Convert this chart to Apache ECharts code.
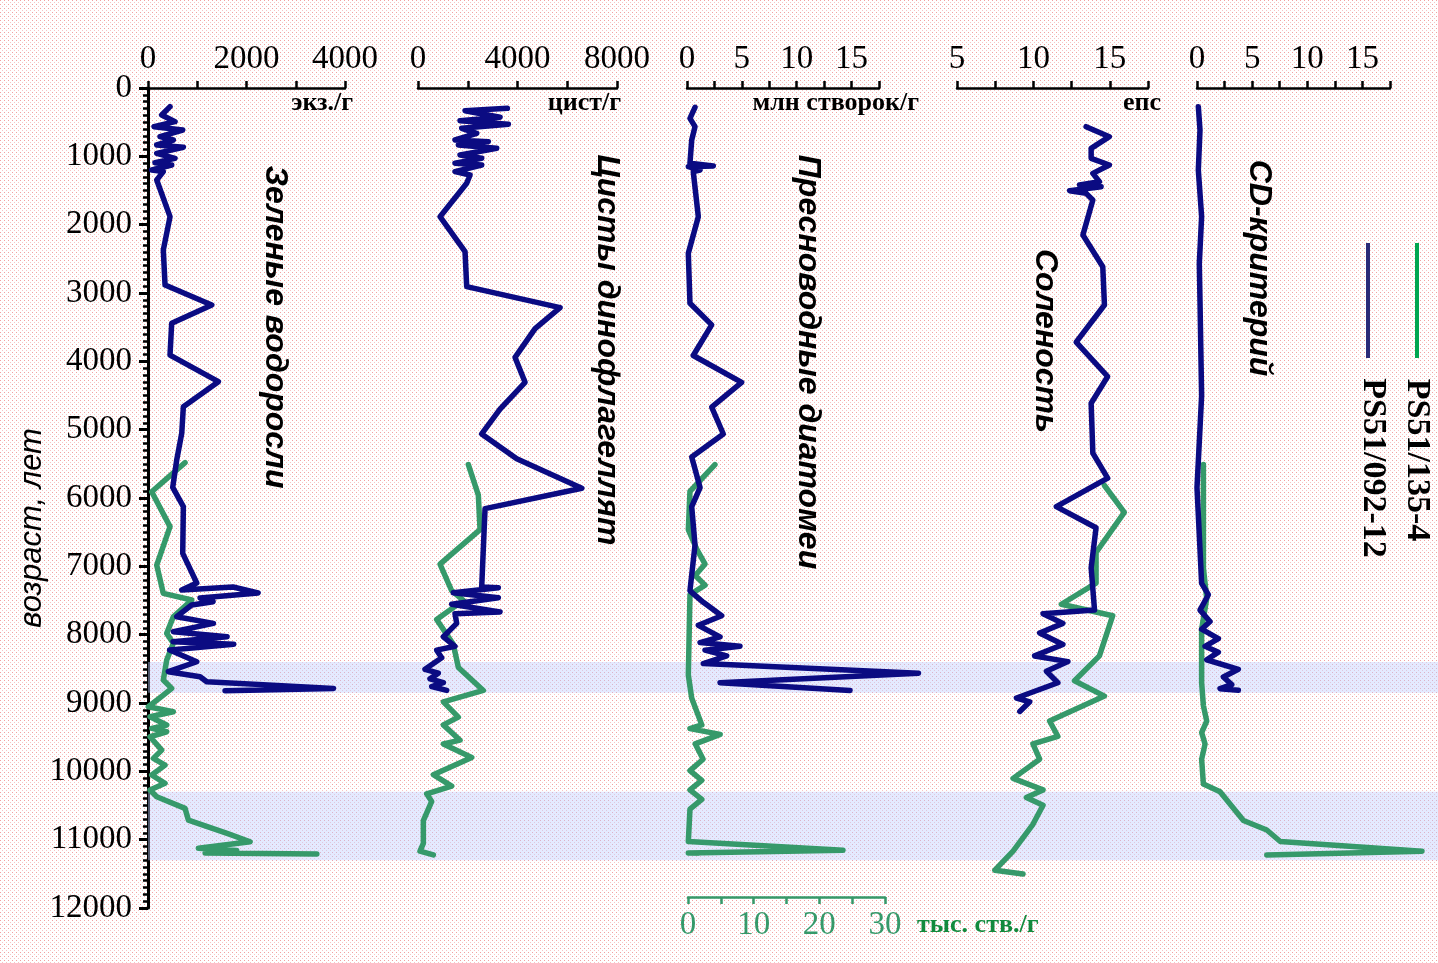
<!DOCTYPE html>
<html>
<head>
<meta charset="utf-8">
<script src="https://cdn.jsdelivr.net/npm/echarts@6/dist/echarts.min.js"></script>
<style>
html,body{margin:0;padding:0;}
body{width:1438px;height:963px;background-color:#fff;
background-image:url("data:image/svg+xml;utf8,<svg xmlns='http://www.w3.org/2000/svg' width='4' height='4'><rect x='0' y='0' width='1' height='1' fill='%23f2a0a0'/><rect x='2' y='2' width='1' height='1' fill='%23f7c4c4'/></svg>");
background-size:4px 4px;}
#chart{width:1438px;height:963px;}
</style>
</head>
<body>
<div id="chart"></div>
<script>
// ---- data: [value, age (years)] ----
const algae092 = [[447,273],[278,395],[549,493],[122,566],[705,615],[244,712],[514,761],[177,834],[718,868],[177,956],[549,1029],[142,1093],[481,1127],[75,1200],[311,1224],[177,1346],[447,1883],[311,2371],[346,2883],[1295,3176],[481,3444],[447,3908],[1429,4298],[718,4664],[685,5054],[583,5444],[502,5844],[718,6127],[705,6810],[990,7244],[685,7347],[1728,7303],[2236,7390],[1057,7464],[1321,7518],[886,7566],[583,7737],[1328,7835],[515,7957],[1606,8030],[508,8103],[1741,8142],[440,8225],[990,8396],[413,8542],[1057,8615],[1193,8689],[3767,8786],[1565,8820]];
const algae135 = [[752,5483],[75,5908],[447,6419],[177,6981],[311,7395],[888,7493],[514,7737],[380,7981],[514,8127],[380,8371],[311,8664],[481,8786],[311,8884],[7,9055],[514,9128],[41,9201],[380,9323],[75,9372],[380,9421],[41,9494],[278,9689],[109,9811],[346,9909],[75,10054],[346,10176],[41,10274],[177,10371],[752,10542],[820,10713],[1606,10908],[2073,11030],[1023,11127],[1800,11160],[1160,11195],[3428,11210]];
const cysts092 = [[3593,297],[1891,332],[3298,429],[1689,478],[3633,532],[1757,590],[2361,663],[1488,761],[2829,785],[1622,834],[3164,883],[1689,981],[2561,1029],[1488,1102],[2561,1127],[1488,1224],[2092,1273],[1958,1395],[885,1883],[1891,2395],[1958,2907],[5712,3214],[4706,3522],[3902,3943],[4304,4307],[3298,4699],[2561,5062],[3969,5427],[6585,5858],[2695,6156],[2561,7303],[3230,7314],[1421,7388],[3230,7459],[1354,7555],[3298,7667],[1488,7695],[1556,7835],[1019,8031],[1488,8170],[751,8227],[953,8338],[282,8507],[817,8563],[483,8647],[1019,8703],[551,8759],[1154,8816]];
const cysts135 = [[2024,5511],[2426,5959],[2494,6462],[885,6967],[1354,7357],[1823,7498],[751,7779],[1421,8142],[1622,8479],[2627,8816],[1019,8983],[1622,9207],[1019,9320],[1689,9544],[1019,9600],[2160,9796],[617,10049],[1354,10216],[349,10329],[551,10440],[215,10720],[215,11055],[80,11168],[617,11224]];
const diatoms092 = [[0.73,283],[0.27,444],[0.73,566],[0.43,761],[0.27,1102],[2.4,1141],[0.12,1151],[1.19,1200],[0.57,1224],[1.03,1883],[0.12,2419],[0.27,3151],[2.25,3466],[0.57,3915],[4.98,4307],[2.25,4671],[3.31,5063],[0.43,5399],[1.19,5847],[0.43,6127],[0.73,6687],[0.27,7358],[1.49,7527],[3.16,7723],[1.03,7863],[3.01,8032],[1.19,8115],[4.83,8171],[1.64,8227],[3.62,8311],[1.49,8423],[21.1,8563],[3.01,8703],[14.86,8816]];
const diatoms135 = [[4.1,5511],[0.3,5903],[0.05,6462],[1.3,6743],[2.6,6967],[1.1,7135],[2.6,7275],[0.3,7415],[0.05,8590],[0.56,8927],[2.1,9320],[0.3,9375],[4.9,9459],[1.1,9598],[2.3,9823],[0.3,9990],[2.1,10131],[0.3,10272],[2.1,10411],[0.3,10552],[0.05,11027],[23.6,11156],[0.05,11196],[1.5,11200]];
const salinity092 = [[13.45,566],[14.97,712],[13.78,883],[13.78,1029],[14.97,1127],[13.89,1249],[14.32,1371],[13.02,1420],[14.43,1444],[12.37,1503],[13.45,1542],[13.89,1639],[13.24,2151],[14.54,2615],[14.65,3176],[12.8,3719],[14.86,4222],[13.78,4614],[13.89,5343],[14.86,5708],[11.5,6127],[14.1,6435],[13.78,7023],[14.0,7640],[10.63,7695],[11.93,7835],[10.41,7976],[11.93,8143],[10.08,8311],[12.26,8394],[10.85,8535],[11.6,8703],[8.89,8927],[9.76,8983],[9.11,9123]];
const salinity135 = [[14.65,5817],[15.95,6210],[14.1,6798],[14.1,7246],[11.83,7555],[15.19,7723],[14.32,8311],[12.69,8675],[14.65,8899],[11.06,9263],[11.6,9487],[9.97,9599],[10.41,9822],[8.67,10103],[10.63,10272],[9.54,10383],[10.63,10496],[9.97,10775],[8.67,11168],[7.48,11447],[9.32,11503]];
const cd092 = [[0.12,273],[0.27,615],[0.12,1200],[0.42,1883],[0.21,2566],[0.27,3103],[0.42,4503],[0,5847],[0.42,7248],[1.03,7415],[0.27,7640],[1.18,7808],[0.42,7920],[1.94,8059],[0.73,8171],[1.94,8256],[0.88,8367],[3.75,8507],[2.39,8620],[3.15,8731],[2.09,8790],[3.75,8812]];
const cd135 = [[0.58,5511],[0.58,7023],[0.88,7471],[0.42,7920],[0.42,8703],[0.58,9040],[0.88,9264],[0.42,9432],[0.73,9600],[0.42,9823],[0.58,10187],[2.09,10300],[4.21,10720],[6.33,10859],[7.55,11027],[20.4,11168],[6.33,11224]];
const bandStarts = [8400, 10300];
const bandEnds = [8850, 11300];
const ageTicks = {min:0, max:12000, interval:1000};
const titles = ['Зеленые водоросли','Цисты динофлагеллят','Пресноводные диатомеи','Соленость','CD-критерий'];
const units = ['экз./г','цист/г','млн створок/г','епс'];
const legendNames = ['PS51/135-4','PS51/092-12'];

const NAVY = '#0b0b82', GREEN = '#36996a';
const SERIF = 'Liberation Serif', SANS = 'Liberation Sans';

const chart = echarts.init(document.getElementById('chart'), null, {renderer:'canvas'});

function grid(left, width){ return {left:left, top:88, width:width, height:820, outerBoundsMode:'none', containLabel:false}; }
function every(step){ return v => (Math.abs(v/step - Math.round(v/step)) < 1e-6) ? String(v) : ''; }
function topAxis(gi, min, max, interval, step){
  return {type:'value', gridIndex:gi, position:'top', min:min, max:max, interval:interval,
    axisLine:{show:true, onZero:false, lineStyle:{color:'#000', width:2.5}},
    axisTick:{show:true, length:7, lineStyle:{color:'#000', width:2.5}},
    axisLabel:{show:true, fontFamily:SERIF, fontSize:33, color:'#000', margin:12, formatter:every(step)},
    splitLine:{show:false}};
}
function hiddenX(gi, min, max){ return {type:'value', gridIndex:gi, min:min, max:max, show:false, splitLine:{show:false}}; }
function hiddenY(gi){
  return {type:'value', gridIndex:gi, inverse:true, min:ageTicks.min, max:ageTicks.max, interval:ageTicks.interval, show:false, splitLine:{show:false}};
}
function line(data, color, xi, yi){
  return {type:'line', xAxisIndex:xi, yAxisIndex:yi, data:data, symbol:'none', showSymbol:false, clip:false,
    z:5, silent:true, lineStyle:{color:color, width:5.5, cap:'round', join:'round'}};
}

const graphics = [];
const titlePos = [[275,327],[607,350],[808,362],[1045,341],[1259,268]];
titles.forEach((t,i)=>graphics.push({type:'text', x:titlePos[i][0], y:titlePos[i][1], rotation:-Math.PI/2,
  style:{text:t, font:'italic bold 32px "'+SANS+'"', fill:'#000', align:'center', verticalAlign:'middle'}}));
const unitPos = [[353,103],[621,103],[919,103],[1161,103]];
units.forEach((t,i)=>graphics.push({type:'text', x:unitPos[i][0], y:unitPos[i][1],
  style:{text:t, font:'bold 26px "'+SERIF+'"', fill:'#000', align:'right', verticalAlign:'middle'}}));
graphics.push({type:'text', x:917, y:925, style:{text:'тыс. ств./г', font:'bold 26px "'+SERIF+'"', fill:'#138a3e', align:'left', verticalAlign:'middle'}});
graphics.push({type:'text', x:32, y:528, rotation:Math.PI/2,
  style:{text:'возраст, лет', font:'italic 31px "'+SANS+'"', fill:'#000', align:'center', verticalAlign:'middle'}});
// legend
graphics.push({type:'line', shape:{x1:1417,y1:243,x2:1417,y2:358}, style:{stroke:'#00a651', lineWidth:4}});
graphics.push({type:'line', shape:{x1:1368,y1:243,x2:1368,y2:358}, style:{stroke:'#2a2a78', lineWidth:4}});
graphics.push({type:'text', x:1417, y:460, rotation:-Math.PI/2, style:{text:legendNames[0], font:'bold 34px "'+SERIF+'"', fill:'#000', align:'center', verticalAlign:'middle'}});
graphics.push({type:'text', x:1373, y:468, rotation:-Math.PI/2, style:{text:legendNames[1], font:'bold 34px "'+SERIF+'"', fill:'#000', align:'center', verticalAlign:'middle'}});

// wide hidden plotting grids share the pixel-per-unit of the visible 0–17.5 axes
const W3 = 192, W5 = 193, EXT = 25, VIS = 17.5;
const option = {
  animation:false,
  backgroundColor:'transparent',
  grid:[grid(148,197), grid(418,199), grid(687,W3), grid(688,197), grid(957,191), grid(1197,W5), grid(148,1290),
        grid(687,W3*EXT/VIS), grid(1197,W5*EXT/VIS)],
  xAxis:[
    topAxis(0, 0, 4000, 1000, 2000),
    topAxis(1, 0, 8000, 2000, 4000),
    topAxis(2, 0, VIS, 2.5, 5),
    {type:'value', gridIndex:3, position:'bottom', offset:-11, min:0, max:30, interval:5,
      axisLine:{show:true, onZero:false, lineStyle:{color:GREEN, width:2.5}},
      axisTick:{show:true, length:7, lineStyle:{color:GREEN, width:2.5}},
      axisLabel:{fontFamily:SERIF, fontSize:33, color:GREEN, margin:12, formatter:every(10)},
      splitLine:{show:false}},
    topAxis(4, 5, VIS, 2.5, 5),
    topAxis(5, 0, VIS, 2.5, 5),
    hiddenX(6, 0, 1),
    hiddenX(7, 0, EXT),
    hiddenX(8, 0, EXT)
  ],
  yAxis:[
    {type:'value', gridIndex:0, inverse:true, min:ageTicks.min, max:ageTicks.max, interval:ageTicks.interval,
      axisLine:{show:true, onZero:false, lineStyle:{color:'#000', width:3}},
      axisTick:{show:true, length:9, lineStyle:{color:'#000', width:3}},
      minorTick:{show:true, splitNumber:10, length:5, lineStyle:{color:'#000', width:2.5}},
      axisLabel:{fontFamily:SERIF, fontSize:33, color:'#000', margin:16, formatter:v => String(v)},
      splitLine:{show:false}, minorSplitLine:{show:false}},
    hiddenY(1), hiddenY(2), hiddenY(3), hiddenY(4), hiddenY(5), hiddenY(6), hiddenY(7), hiddenY(8)
  ],
  series:[
    {type:'line', xAxisIndex:6, yAxisIndex:6, data:[[0,0]], symbol:'none', silent:true, z:1,
      lineStyle:{opacity:0},
      markArea:{silent:true, itemStyle:{color:'rgba(190,205,255,0.42)'},
        data:bandStarts.map((s,i)=>[{yAxis:s},{yAxis:bandEnds[i]}])}},
    line(algae135, GREEN, 0, 0), line(algae092, NAVY, 0, 0),
    line(cysts135, GREEN, 1, 1), line(cysts092, NAVY, 1, 1),
    line(diatoms135, GREEN, 3, 3), line(diatoms092, NAVY, 7, 7),
    line(salinity135, GREEN, 4, 4), line(salinity092, NAVY, 4, 4),
    line(cd135, GREEN, 8, 8), line(cd092, NAVY, 8, 8)
  ],
  graphic:graphics
};
chart.setOption(option);
</script>
</body>
</html>
